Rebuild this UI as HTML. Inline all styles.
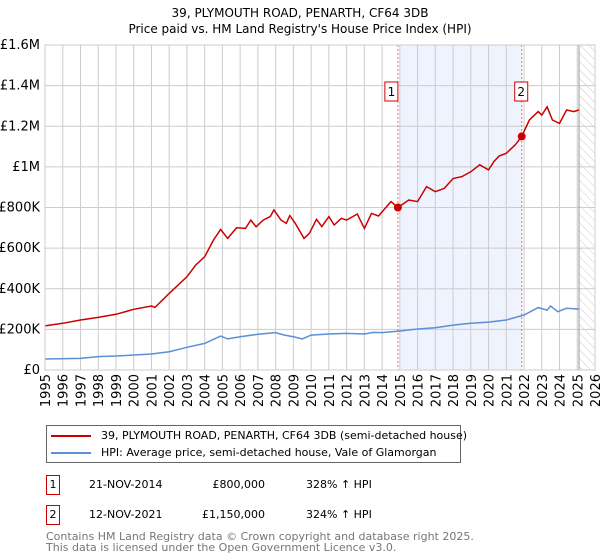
<!DOCTYPE html>
<html><head><meta charset="utf-8"><style>
body{margin:0;background:#fff;font-family:"DejaVu Sans","Liberation Sans",sans-serif;}
#wrap{position:relative;width:600px;height:560px;overflow:hidden;}
</style></head><body>
<div id="wrap">
<svg id="chart" width="600" height="560" style="position:absolute;left:0;top:0;font-family:'DejaVu Sans','Liberation Sans',sans-serif">
<defs><pattern id="hatch" width="6" height="6" patternUnits="userSpaceOnUse" patternTransform="rotate(-45)"><line x1="0" y1="0" x2="0" y2="6" stroke="#ccc" stroke-width="1"/></pattern></defs>
<text x="300" y="17" text-anchor="middle" font-size="12">39, PLYMOUTH ROAD, PENARTH, CF64 3DB</text>
<text x="300" y="33" text-anchor="middle" font-size="12">Price paid vs. HM Land Registry's House Price Index (HPI)</text>
<g id="grid"></g><g id="marks"></g>
</svg>
<div style="position:absolute;left:46px;top:425px;width:413px;height:36px;border:1px solid #666;font-size:11px;">
<div style="position:absolute;left:4px;top:3px;white-space:nowrap"><span style="display:inline-block;width:40px;height:2px;background:#cc0000;vertical-align:middle;margin-right:10px"></span>39, PLYMOUTH ROAD, PENARTH, CF64 3DB (semi-detached house)</div>
<div style="position:absolute;left:4px;top:20px;white-space:nowrap"><span style="display:inline-block;width:40px;height:2px;background:#5b8fd6;vertical-align:middle;margin-right:10px"></span>HPI: Average price, semi-detached house, Vale of Glamorgan</div>
</div>
<div style="position:absolute;top:475px;left:0;font-size:11px;">
<div style="position:absolute;left:46px;top:0;width:12px;height:18px;border:1px solid #cc0000;text-align:center;line-height:18px">1</div>
<div style="position:absolute;left:89px;top:3px;white-space:nowrap">21-NOV-2014</div>
<div style="position:absolute;left:165px;width:100px;text-align:right;top:3px">£800,000</div>
<div style="position:absolute;left:306px;top:3px;white-space:nowrap">328% ↑ HPI</div></div>
<div style="position:absolute;top:505px;left:0;font-size:11px;">
<div style="position:absolute;left:46px;top:0;width:12px;height:18px;border:1px solid #cc0000;text-align:center;line-height:18px">2</div>
<div style="position:absolute;left:89px;top:3px;white-space:nowrap">12-NOV-2021</div>
<div style="position:absolute;left:165px;width:100px;text-align:right;top:3px">£1,150,000</div>
<div style="position:absolute;left:306px;top:3px;white-space:nowrap">324% ↑ HPI</div></div>
<div style="position:absolute;left:46px;top:531px;font-size:11px;color:#777;line-height:11px;white-space:nowrap">Contains HM Land Registry data © Crown copyright and database right 2025.<br>This data is licensed under the Open Government Licence v3.0.</div>
</div>
<script>
const yTicks=[0,200000,400000,600000,800000,1000000,1200000,1400000,1600000];
const yTickLabels=["£0","£200K","£400K","£600K","£800K","£1M","£1.2M","£1.4M","£1.6M"];
const xYears=[1995,1996,1997,1998,1999,2000,2001,2002,2003,2004,2005,2006,2007,2008,2009,2010,2011,2012,2013,2014,2015,2016,2017,2018,2019,2020,2021,2022,2023,2024,2025,2026];
const propYears=[1995,1996,1997,1998,1999,2000,2001,2001.2,2002,2002.5,2003,2003.5,2004,2004.5,2004.9,2005.3,2005.8,2006.3,2006.6,2006.9,2007.3,2007.7,2007.9,2008.3,2008.6,2008.8,2009.1,2009.6,2009.9,2010.3,2010.6,2011,2011.3,2011.7,2012,2012.6,2013,2013.4,2013.8,2014.5,2014.89,2015.5,2016,2016.5,2017,2017.5,2018,2018.5,2019,2019.5,2020,2020.3,2020.6,2021,2021.5,2021.87,2022.3,2022.8,2023,2023.3,2023.6,2024,2024.4,2024.8,2025.1];
const propValues=[217000,230000,246000,259000,274000,299000,315000,308000,377000,418000,459000,517000,558000,640000,692000,648000,700000,697000,738000,705000,738000,755000,788000,738000,722000,760000,722000,648000,673000,742000,706000,755000,714000,747000,738000,768000,697000,771000,758000,829000,800000,837000,829000,903000,878000,894000,943000,952000,976000,1010000,985000,1026000,1054000,1067000,1108000,1150000,1231000,1272000,1255000,1296000,1231000,1214000,1280000,1272000,1280000];
const hpiYears=[1995,1997,1998,1999,2000,2001,2002,2003,2004,2004.9,2005.3,2006,2007,2008,2008.5,2009,2009.5,2010,2011,2012,2013,2013.5,2014,2015,2016,2017,2018,2019,2020,2021,2022,2022.8,2023.3,2023.5,2023.9,2024.4,2025.1];
const hpiValues=[54000,57000,66000,69000,74000,79000,90000,112000,131000,167000,153000,164000,176000,184000,172000,164000,153000,172000,177000,180000,177000,185000,184000,192000,202000,208000,221000,230000,236000,246000,271000,307000,295000,315000,287000,304000,300000];
const saleYears=[2014.89,2021.87];
const saleValues=[800000,1150000];
const saleLabels=["1","2"];
const hatchStart=2025.1;

const L=45,R=595,T=45,B=370,x0=1995,x1=2026,yMax=1600000;
const X=y=>L+(y-x0)/(x1-x0)*(R-L);
const Y=v=>B-v/yMax*(B-T);
const NS="http://www.w3.org/2000/svg";
function mk(tag,attrs,parent){const e=document.createElementNS(NS,tag);for(const k in attrs)e.setAttribute(k,attrs[k]);parent.appendChild(e);return e;}
const grid=document.getElementById('grid'),marks=document.getElementById('marks');
let r=mk('rect',{x:X(saleYears[0])+2,y:T,width:X(saleYears[1])-X(saleYears[0])-2,height:B-T,fill:'#eef3fd'},grid);


let h=mk('rect',{x:X(hatchStart),y:T,width:R-X(hatchStart),height:B-T,fill:'url(#hatch)'},grid);


yTicks.forEach((v,i)=>{
 let l=mk('line',{x1:L,x2:R,y1:Y(v),y2:Y(v),stroke:'#ccc','stroke-width':1},grid);
 
 
 let t=mk('text',{x:L-5,y:Y(v)+4,'text-anchor':'end','font-size':13},grid);t.textContent=yTickLabels[i];
 
 
});
xYears.forEach(yr=>{
 let l=mk('line',{x1:X(yr),x2:X(yr),y1:T,y2:B,stroke:'#ccc','stroke-width':1},grid);
 
 
 let t=mk('text',{x:0,y:0,'font-size':13,'text-anchor':'end',transform:`translate(${X(yr)+5},${B+4}) rotate(-90)`},grid);t.textContent=yr;
 
 
});
let hl=mk('line',{x1:X(hatchStart),x2:X(hatchStart),y1:T,y2:B,stroke:'#999','stroke-width':1},grid);


saleYears.forEach((yr,i)=>{
 let l=mk('line',{x1:X(yr),x2:X(yr),y1:T,y2:B,stroke:'#f07070','stroke-width':1,'stroke-dasharray':'2,2'},marks);
 
 
});
const path=(xs,vs)=>xs.map((x,i)=>(i?'L':'M')+X(x).toFixed(1)+','+Y(vs[i]).toFixed(1)).join('');
let hp=mk('path',{d:path(hpiYears,hpiValues),fill:'none',stroke:'#5b8fd6','stroke-width':1.5},marks);


let pp=mk('path',{d:path(propYears,propValues),fill:'none',stroke:'#cc0000','stroke-width':1.5},marks);


saleYears.forEach((yr,i)=>{
 let c=mk('circle',{cx:X(yr),cy:Y(saleValues[i]),r:4,fill:'#cc0000'},marks);
 
 
 const bx=i===0?X(yr)-13:X(yr)-7;
 let b=mk('rect',{x:bx,y:82,width:13,height:19,fill:'#fff',stroke:'#cc0000','stroke-width':1},marks);
 
 
 let t=mk('text',{x:bx+6.5,y:96,'text-anchor':'middle','font-size':12},marks);t.textContent=saleLabels[i];
 
 
});
let fr=mk('rect',{x:L,y:T,width:R-L,height:B-T,fill:'none',stroke:'#ccc'},marks);


</script>
</body></html>
